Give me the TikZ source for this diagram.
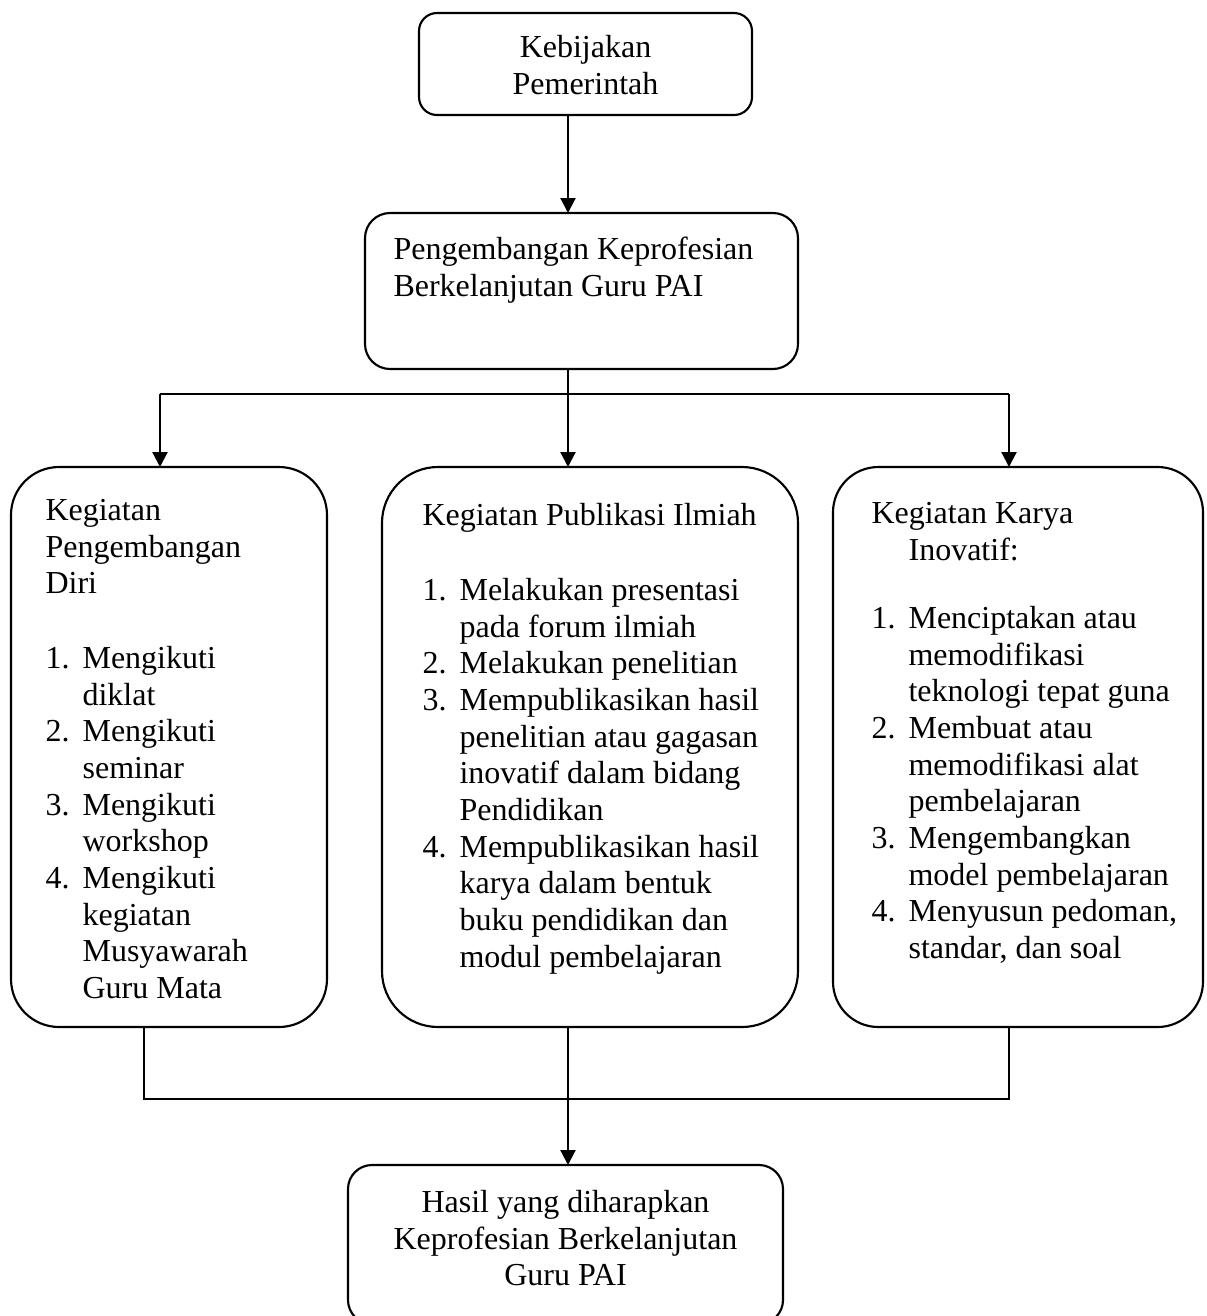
\documentclass[tikz,border=0pt]{standalone}
\usepackage{fontspec}
\setmainfont{Liberation Serif}
\usetikzlibrary{arrows.meta,positioning,fit}

\newcommand{\numlbl}[1]{\makebox[13.9pt][l]{#1}}
\newcommand{\numgap}{\hspace*{13.9pt}}
\newcommand{\firstln}{\rule{0pt}{10pt}}

\begin{document}
\begin{tikzpicture}[x = 0.375pt, y = -0.375pt,
  box/.style={draw, line width=0.8pt, inner sep=0pt, outer sep=0pt},
  txt/.style={inner sep=0pt, font=\fontsize{12}{13.75}\selectfont},
  arr/.style={line width=0.8pt, -{Triangle[length=5.6pt,width=5.6pt]}},
  link/.style={line width=0.8pt}]
\useasboundingbox (0,0) rectangle (1207,1316);
\clip (0,0) rectangle (1207,1316);

% boxes
\node[box, rounded corners=6.75pt, fit={(419,13) (752,115)}] (kebijakan) {};
\node[box, rounded corners=9.4pt, fit={(365,213) (798,369)}] (pkb) {};
\node[box, rounded corners=18pt, fit={(11,467) (327,1027)}] (diri) {};
\node[box, rounded corners=21pt, fit={(382,467) (798,1027)}] (publikasi) {};
\node[box, rounded corners=17pt, fit={(833,467) (1203,1027)}] (karya) {};
\node[box, rounded corners=9pt, fit={(348,1165) (783,1324)}] (hasil) {};

% texts
\node[txt, align=center, anchor=north] (kebijakantxt) at (585.5,30.33) {\firstln Kebijakan\\Pemerintah};
\node[txt, align=left, anchor=north west] (pkbtxt) at (393,232.33) {\firstln Pengembangan Keprofesian\\Berkelanjutan Guru PAI};
\node[txt, align=left, anchor=north west] (diritxt) at (45,493.33) {\firstln Kegiatan\\Pengembangan\\Diri};
\node[txt, align=left, anchor=north west] (dirilist) at (45,641.33) {\firstln\numlbl{1.}Mengikuti\\\numgap diklat\\\numlbl{2.}Mengikuti\\\numgap seminar\\\numlbl{3.}Mengikuti\\\numgap workshop\\\numlbl{4.}Mengikuti\\\numgap kegiatan\\\numgap Musyawarah\\\numgap Guru Mata};
\node[txt, align=left, anchor=north west] (publikasitxt) at (422,498.33) {\firstln Kegiatan Publikasi Ilmiah};
\node[txt, align=left, anchor=north west] (publikasilist) at (422,573.33) {\firstln\numlbl{1.}Melakukan presentasi\\\numgap pada forum ilmiah\\\numlbl{2.}Melakukan penelitian\\\numlbl{3.}Mempublikasikan hasil\\\numgap penelitian atau gagasan\\\numgap inovatif dalam bidang\\\numgap Pendidikan\\\numlbl{4.}Mempublikasikan hasil\\\numgap karya dalam bentuk\\\numgap buku pendidikan dan\\\numgap modul pembelajaran};
\node[txt, align=left, anchor=north west] (karyatxt) at (871,496.33) {\firstln Kegiatan Karya\\\numgap Inovatif:};
\node[txt, align=left, anchor=north west] (karyalist) at (871,601.33) {\firstln\numlbl{1.}Menciptakan atau\\\numgap memodifikasi\\\numgap teknologi tepat guna\\\numlbl{2.}Membuat atau\\\numgap memodifikasi alat\\\numgap pembelajaran\\\numlbl{3.}Mengembangkan\\\numgap model pembelajaran\\\numlbl{4.}Menyusun pedoman,\\\numgap standar, dan soal};
\node[txt, align=center, anchor=north] (hasiltxt) at (565.5,1185.33) {\firstln Hasil yang diharapkan\\Keprofesian Berkelanjutan\\Guru PAI};

% connectors
\coordinate (spine) at (568,394);
\coordinate (lefttap) at (160,394);
\coordinate (righttap) at (1009,394);
\coordinate (leftout) at (144,1099);
\coordinate (rightout) at (1009,1099);

\draw[arr] (kebijakan.south -| spine) -- (pkb.north -| spine);
\draw[link] (pkb.south -| spine) -- (spine);
\draw[link] (lefttap) -- (righttap);
\draw[arr] (spine) -- (publikasi.north -| spine);
\draw[arr] (lefttap) -- (diri.north -| lefttap);
\draw[arr] (righttap) -- (karya.north -| righttap);
\draw[link] (diri.south -| leftout) -- (leftout) -- (rightout) -- (karya.south -| rightout);
\draw[arr] (publikasi.south -| spine) -- (hasil.north -| spine);
\end{tikzpicture}
\end{document}
